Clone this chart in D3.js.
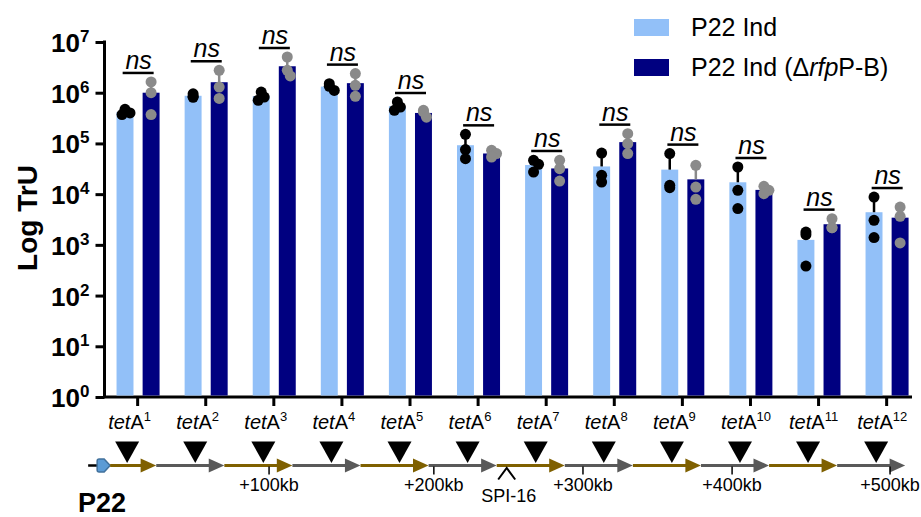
<!DOCTYPE html>
<html>
<head>
<meta charset="utf-8">
<script src="https://cdn.jsdelivr.net/npm/d3@7"></script>
<style>
  body { margin: 0; background: #fff; }
  svg { display: block; font-family: "Liberation Sans", Arial, sans-serif; }
</style>
</head>
<body>
<div id="chart"></div>
<script>
// ===========Data
var categories = ["1", "2", "3", "4", "5", "6", "7", "8", "9", "10", "11", "12"];
var seriesNames = ["P22 Ind", "P22 Ind (\u0394rfpP-B)"];

// replicate TrU values per insertion site
var indReps = [
  [4.7e5, 3.7e5, 4.0e5], [9.5e5, 8.5e5, 8.1e5], [1.03e6, 7.1e5, 8.2e5],
  [1.51e6, 1.11e6, 1.34e6], [6.56e5, 4.5e5, 5.2e5], [1.51e5, 7.55e4, 5.0e4],
  [4.65e4, 2.73e4, 3.87e4], [6.47e4, 2.35e4, 1.73e4], [6.3e4, 1.34e4, 1.49e4],
  [3.43e4, 1.19e4, 5.2e3], [1.79e3, 1.59e3, 382], [8.77e3, 3.04e3, 1.39e3]
];
var rfpReps = [
  [1.63e6, 1.0e6, 3.7e5], [2.77e6, 1.29e6, 7.7e5], [5.06e6, 2.77e6, 2.14e6],
  [2.38e6, 1.4e6, 8.5e5], [4.5e5, 3.3e5, 4.17e5], [7.3e4, 5.4e4, 6.3e4],
  [4.65e4, 3.18e4, 1.81e4], [1.56e5, 9.9e4, 6.3e4], [3.7e4, 1.38e4, 7.9e3],
  [1.02e4, 1.43e4, 1.19e4], [3.29e3, 2.18e3, 2.18e3], [5.57e3, 3.65e3, 1.09e3]
];
var sigLabels = ["ns", "ns", "ns", "ns", "ns", "ns", "ns", "ns", "ns", "ns", "ns", "ns"];
var yTickValues = [1, 10, 100, 1e3, 1e4, 1e5, 1e6, 1e7];

// genome map annotations, position in units of insertion site index
var genomeLabels = ["+100kb", "+200kb", "+300kb", "+400kb", "+500kb"];
var genomePos = [1.93, 4.35, 6.54, 8.73, 11.05];
var spiLabel = "SPI-16";
var spiPos = 5.42;

// ===========Sizes
var svgWidth = 921, svgHeight = 517;
var lightColor = "#92c0f8", darkColor = "#000080", grayDot = "#8a8a8a";
var brown = "#7f6000", mapGray = "#595959";

var svg = d3.select("#chart").append("svg")
  .attr("width", svgWidth)
  .attr("height", svgHeight);

var axisX = 104.5, axisY = 397;

var x = d3.scaleBand().domain(categories).range([103.6, 920.7]).padding(0);
var bw = x.bandwidth();
var xSub = d3.scaleBand().domain(["ind", "rfp"]).range([bw * 0.19, bw * 0.822]).paddingInner(0.35);
var y = d3.scaleLog().domain([1, 1e7]).range([axisY, 42]);
var center = function (c) { return x(c) + bw / 2; };

function stats(reps) {
  var m = d3.mean(reps), s = d3.deviation(reps);
  return { mean: m, sd: s, max: d3.max(reps) };
}

var groups = categories.map(function (c, i) {
  return { cat: c, ind: indReps[i], rfp: rfpReps[i], sig: sigLabels[i] };
});

// ===========Axes
var yAxis = svg.append("g")
  .attr("transform", `translate(${axisX},0)`)
  .call(d3.axisLeft(y).tickValues(yTickValues).tickSize(9).tickFormat(""));
yAxis.selectAll("path, line").attr("stroke", "#000").attr("stroke-width", 3);
yAxis.select(".domain").attr("d", `M0,${y(1e7) - 1.5}V${axisY}`);
yAxis.selectAll(".tick").each(function (d) {
  var t = d3.select(this).append("text")
    .attr("x", -15).attr("y", 9.5)
    .attr("text-anchor", "end")
    .attr("fill", "#000")
    .attr("font-weight", "bold");
  t.append("tspan").attr("font-size", 26).text("10");
  t.append("tspan").attr("font-size", 17).attr("dy", -10).text(Math.round(Math.log10(d)));
});

var xAxis = svg.append("g")
  .attr("transform", `translate(0,${axisY})`)
  .call(d3.axisBottom(x).tickSize(9).tickSizeOuter(0).tickFormat(""));
xAxis.selectAll("path, line").attr("stroke", "#000").attr("stroke-width", 3);
xAxis.select(".domain").attr("d", `M${axisX - 1.5},0H912`);
xAxis.selectAll(".tick").each(function (d) {
  var t = d3.select(this).append("text")
    .attr("x", -29.5).attr("y", 32)
    .attr("text-anchor", "start")
    .attr("fill", "#000")
    .attr("font-size", 20);
  t.append("tspan").attr("font-style", "italic").text("tet");
  t.append("tspan").text("A");
  t.append("tspan").attr("font-size", 13).attr("dy", -8).text(d);
});

svg.append("text")
  .attr("transform", "translate(37,218) rotate(-90)")
  .attr("text-anchor", "middle")
  .attr("font-size", 28)
  .attr("font-weight", "bold")
  .text("Log TrU");

// ===========Bars, error bars and replicate dots
var r = 5.5;
function jitter(vals) {
  var placed = [];
  return vals.map(function (v) {
    var py = y(v), offs = [0, 3, -3, 5, -5], best = 0;
    for (var k = 0; k < offs.length; k++) {
      var ok = placed.every(function (p) {
        return Math.hypot(p[0] - offs[k], p[1] - py) >= r * 1.05;
      });
      if (ok) { best = offs[k]; break; }
    }
    placed.push([best, py]);
    return { v: v, dx: best };
  });
}

var series = [
  { key: "ind", fill: lightColor, dot: "#000" },
  { key: "rfp", fill: darkColor, dot: grayDot }
];

var chartGroup = svg.append("g");
groups.forEach(function (g) {
  series.forEach(function (s) {
    var st = stats(g[s.key]);
    var bx = x(g.cat) + xSub(s.key);
    var cx = bx + xSub.bandwidth() / 2;
    chartGroup.append("rect")
      .attr("x", bx).attr("width", xSub.bandwidth())
      .attr("y", y(st.mean)).attr("height", axisY - 1.5 - y(st.mean))
      .attr("fill", s.fill);
    chartGroup.append("line")
      .attr("x1", cx).attr("x2", cx)
      .attr("y1", y(st.mean)).attr("y2", y(st.mean + st.sd))
      .attr("stroke", s.dot).attr("stroke-width", 2.5);
    chartGroup.selectAll(null)
      .data(jitter(g[s.key].slice().sort(d3.descending)))
      .enter().append("circle")
      .attr("cx", d => cx + d.dx)
      .attr("cy", d => y(d.v))
      .attr("r", r)
      .attr("fill", s.dot);
  });

  // significance bar
  var top = d3.max(series, s => { var st = stats(g[s.key]); return Math.max(st.max, st.mean + st.sd); });
  var ly = y(top) - 9;
  var c = center(g.cat);
  chartGroup.append("line")
    .attr("x1", c - 15).attr("x2", c + 16)
    .attr("y1", ly).attr("y2", ly)
    .attr("stroke", "#000").attr("stroke-width", 2.5);
  chartGroup.append("text")
    .attr("x", c + 1).attr("y", ly - 4)
    .attr("text-anchor", "middle")
    .attr("font-size", 25)
    .attr("font-style", "italic")
    .text(g.sig);
});

// ===========Legend
var legend = svg.append("g").attr("transform", "translate(634,19)");
seriesNames.forEach(function (name, i) {
  var row = legend.append("g").attr("transform", `translate(0,${i * 40})`);
  row.append("rect").attr("width", 35).attr("height", 17).attr("fill", series[i].fill);
  var t = row.append("text").attr("x", 57).attr("y", 17).attr("font-size", 25);
  if (i === 0) {
    t.text(name);
  } else {
    t.append("tspan").text("P22 Ind (\u0394");
    t.append("tspan").attr("font-style", "italic").text("rfp");
    t.append("tspan").text("P-B)");
  }
});

// ===========Genome map
var mapY = 465.5;
var idx = d3.scaleLinear().domain([0, categories.length - 1])
  .range([center(categories[0]), center(categories[categories.length - 1])]);
var map = svg.append("g");

categories.forEach(function (c, i) {
  var x0 = center(c) - 49.5, x1 = center(c) + 18.5;
  var col = i % 2 === 0 ? brown : mapGray;
  var lineStart = x0;
  if (i === 0) {
    map.append("line").attr("x1", x0).attr("x2", x0 + 10)
      .attr("y1", mapY).attr("y2", mapY)
      .attr("stroke", "#000").attr("stroke-width", 2.5);
    var p = x0 + 9;
    map.append("path")
      .attr("d", `M${p + 2},${mapY - 6.5}H${p + 7}L${p + 13},${mapY}L${p + 7},${mapY + 6.5}H${p + 2}Q${p},${mapY + 6.5} ${p},${mapY + 4.5}V${mapY - 4.5}Q${p},${mapY - 6.5} ${p + 2},${mapY - 6.5}Z`)
      .attr("fill", "#5b9bd5").attr("stroke", "#41719c").attr("stroke-width", 1.5);
    lineStart = p + 13;
  }
  map.append("line").attr("x1", lineStart).attr("x2", x1 - 14)
    .attr("y1", mapY).attr("y2", mapY)
    .attr("stroke", col).attr("stroke-width", 3);
  map.append("path")
    .attr("d", `M${x1 - 15.5},${mapY - 7}L${x1},${mapY}L${x1 - 15.5},${mapY + 7}Z`)
    .attr("fill", col);

  // insertion site triangle
  var tx = center(c) - 10.5;
  map.append("path")
    .attr("d", `M${tx - 12},441.5H${tx + 12}L${tx},463Z`)
    .attr("fill", "#000");
});

genomeLabels.forEach(function (lab, i) {
  var gx = idx(genomePos[i]);
  map.append("line").attr("x1", gx).attr("x2", gx)
    .attr("y1", mapY + 1).attr("y2", mapY + 9)
    .attr("stroke", "#000").attr("stroke-width", 1.5);
  map.append("text").attr("x", gx).attr("y", 491)
    .attr("text-anchor", "middle").attr("font-size", 18)
    .text(lab);
});

var sx = idx(spiPos);
map.append("path")
  .attr("d", `M${sx - 8.5},479.5L${sx},468L${sx + 8.5},479.5`)
  .attr("fill", "none").attr("stroke", "#000").attr("stroke-width", 2);
map.append("text").attr("x", sx + 2).attr("y", 501.5)
  .attr("text-anchor", "middle").attr("font-size", 18)
  .text(spiLabel);

svg.append("text")
  .attr("x", 78).attr("y", 512)
  .attr("font-size", 27).attr("font-weight", "bold")
  .text("P22");
</script>
</body>
</html>
